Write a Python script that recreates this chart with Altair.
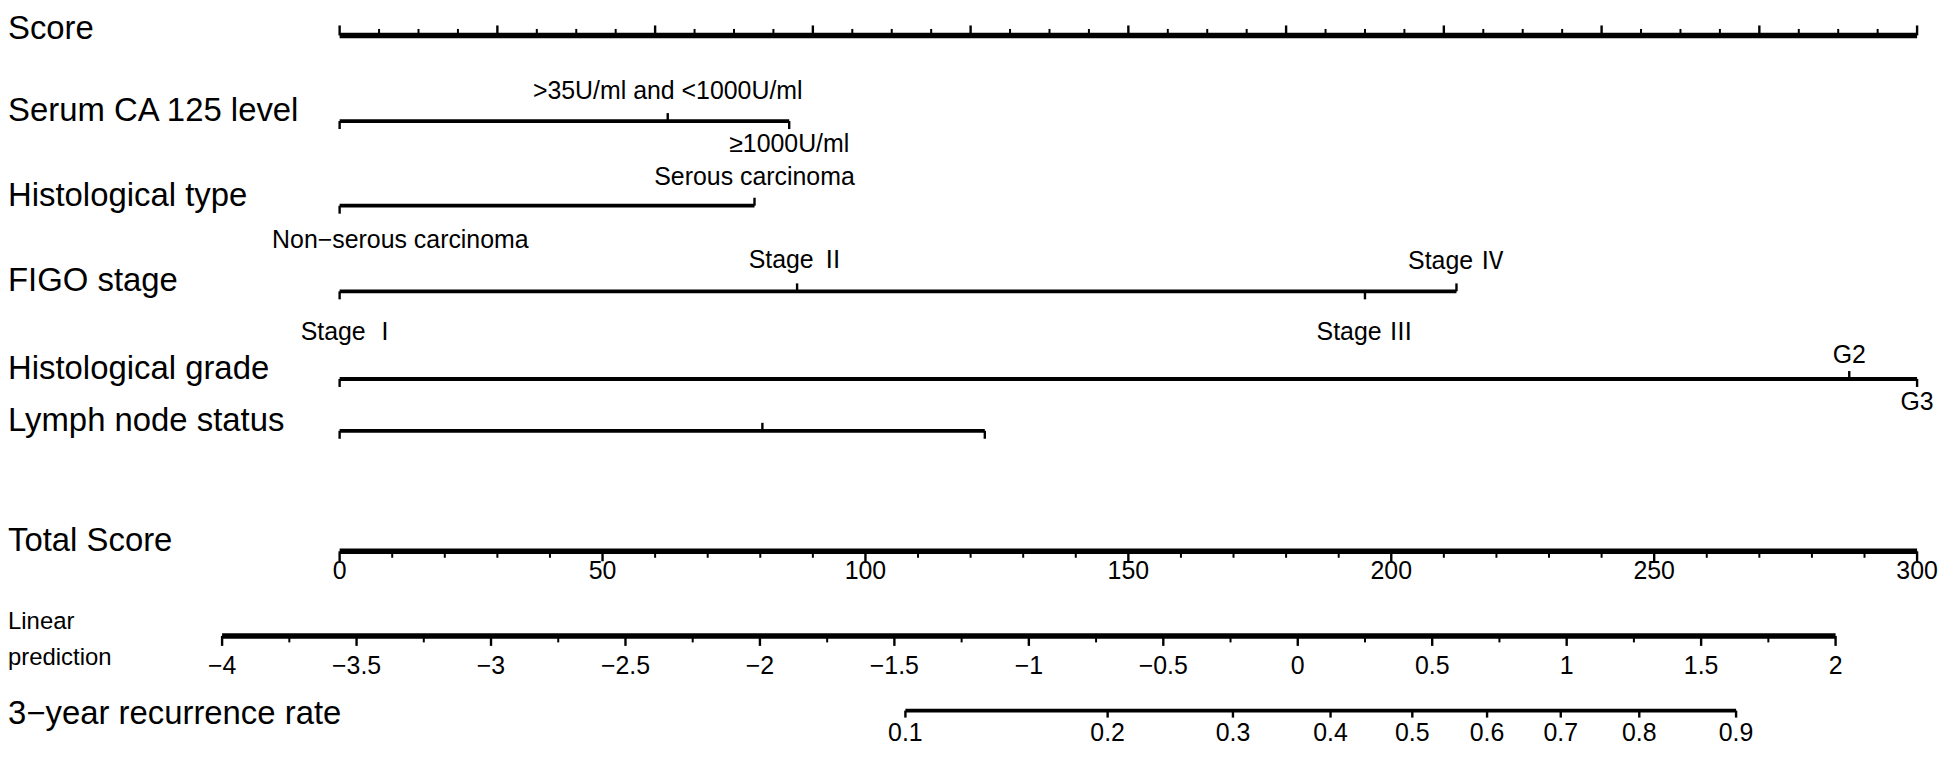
import altair as alt
import pandas as pd

# ---------------- values ----------------
# "Score" (points) axis: major ticks every 10, minor every 2.5 (no numbers drawn)
score_major = [0, 10, 20, 30, 40, 50, 60, 70, 80, 90, 100]
score_minor = [v + d for v in score_major[:-1] for d in (2.5, 5.0, 7.5)]

# predictor rows: category label and its points
ca125_labels = ["", ">35U/ml and <1000U/ml", "≥1000U/ml"]
ca125_points = [0.0, 20.8, 28.5]

histtype_labels = ["Non−serous carcinoma", "Serous carcinoma"]
histtype_points = [0.0, 26.3]

figo_labels = ["Stage Ⅰ", "Stage Ⅱ", "Stage Ⅲ", "Stage Ⅳ"]
figo_points = [0.0, 29.0, 65.0, 70.8]

grade_labels = ["", "G2", "G3"]
grade_points = [0.0, 95.7, 100.0]

lymph_labels = ["", "", ""]
lymph_points = [0.0, 26.8, 40.9]

# Total score axis
total_major = [0, 50, 100, 150, 200, 250, 300]
total_minor = [v for v in range(0, 301, 10) if v % 50 != 0]

# Linear prediction axis
lp_major = [-4, -3.5, -3, -2.5, -2, -1.5, -1, -0.5, 0, 0.5, 1, 1.5, 2]
lp_major_text = ["−4", "−3.5", "−3", "−2.5", "−2", "−1.5", "−1", "−0.5", "0", "0.5", "1", "1.5", "2"]
lp_minor = [v + 0.25 for v in lp_major[:-1]]
lp_at_total = (-22.35, 284.5)   # total score where the linear prediction is -4 and 2

# 3-year recurrence rate axis (positions read on the linear prediction scale)
rec_labels = ["0.1", "0.2", "0.3", "0.4", "0.5", "0.6", "0.7", "0.8", "0.9"]
rec_lp = [-1.459, -0.707, -0.241, 0.122, 0.426, 0.704, 0.978, 1.270, 1.630]

# ---------------- layout (page pixels / styling) ----------------
W, H, M = 1938, 740, 8
X0_PAGE, PX_PER_PT = 341.0, 15.84
FONT = "Liberation Sans, Arial, Noto Sans CJK SC, sans-serif"
ROW_SIZE, TICK_SIZE, SMALL_SIZE = 33, 25, 24


def pts_of_page(px):
    return (px - X0_PAGE) / PX_PER_PT


x_domain = [pts_of_page(M), pts_of_page(M + W)]


def total_to_pts(t):
    return t / 3.0


def lp_to_pts(lp):
    t = lp_at_total[0] + (lp + 4) / 6.0 * (lp_at_total[1] - lp_at_total[0])
    return total_to_pts(t)


def yy(page_y):
    return page_y - M


line_y = {"score": 34, "ca125": 120, "histtype": 205, "figo": 291, "grade": 379,
          "lymph": 431, "total": 552, "lp": 637, "rec": 712}
# row titles: (text, baseline y, size)
row_label = [("Score", 38, ROW_SIZE), ("Serum CA 125 level", 120, ROW_SIZE),
             ("Histological type", 205, ROW_SIZE), ("FIGO stage", 291, ROW_SIZE),
             ("Histological grade", 379, ROW_SIZE), ("Lymph node status", 431, ROW_SIZE),
             ("Total Score", 552, ROW_SIZE), ("3−year recurrence rate", 725, ROW_SIZE),
             ("Linear", 630, SMALL_SIZE), ("prediction", 666, SMALL_SIZE)]

# per category: tick direction (+1 down, -1 up), label baseline offset, label shift (pts)
cat_rows = [
    ("ca125", ca125_labels, ca125_points, [1, -1, 1], [0, -22, 31], [0, 0, 0]),
    ("histtype", histtype_labels, histtype_points, [1, -1], [42, -21], [3.85, 0]),
    ("figo", figo_labels, figo_points, [1, -1, 1, -1], [49, -23, 49, -22], [0.6, 0, 0, 0]),
    ("grade", grade_labels, grade_points, [1, -1, 1], [0, -16, 31], [0, 0, 0]),
    ("lymph", lymph_labels, lymph_points, [1, -1, 1], [0, 0, 0], [0, 0, 0]),
]

lines, ticks, texts = [], [], []

# Score axis
ys = line_y["score"]
lines.append(dict(x=0, x2=100, y=yy(ys), w=5.5))
for v in score_major:
    ticks.append(dict(x=v, y=yy(ys), y2=yy(ys - 10), w=2.4))
for v in score_minor:
    ticks.append(dict(x=v, y=yy(ys), y2=yy(ys - 6.5), w=2.0))

# predictor rows
for key, labs, pts, dirs, dys, shifts in cat_rows:
    y0 = line_y[key]
    lines.append(dict(x=min(pts), x2=max(pts), y=yy(y0), w=3.8))
    for lab, p, d, dy, sh in zip(labs, pts, dirs, dys, shifts):
        ticks.append(dict(x=p, y=yy(y0), y2=yy(y0 + 8 * d), w=2.4))
        if lab:
            texts.append(dict(x=p + sh, y=yy(y0 + dy), text=lab, size=TICK_SIZE))

# Total score axis
yt = line_y["total"]
lines.append(dict(x=total_to_pts(0), x2=total_to_pts(300), y=yy(yt), w=5.5))
for v in total_major:
    ticks.append(dict(x=total_to_pts(v), y=yy(yt), y2=yy(yt + 10), w=2.4))
    texts.append(dict(x=total_to_pts(v), y=yy(yt + 28), text=str(v), size=TICK_SIZE))
for v in total_minor:
    ticks.append(dict(x=total_to_pts(v), y=yy(yt), y2=yy(yt + 6.5), w=2.0))

# Linear prediction axis
yl = line_y["lp"]
lines.append(dict(x=lp_to_pts(-4), x2=lp_to_pts(2), y=yy(yl), w=5.5))
for v, t in zip(lp_major, lp_major_text):
    ticks.append(dict(x=lp_to_pts(v), y=yy(yl), y2=yy(yl + 10), w=2.4))
    texts.append(dict(x=lp_to_pts(v), y=yy(yl + 38), text=t, size=TICK_SIZE))
for v in lp_minor:
    ticks.append(dict(x=lp_to_pts(v), y=yy(yl), y2=yy(yl + 6.5), w=2.0))

# recurrence axis
yr = line_y["rec"]
lines.append(dict(x=lp_to_pts(rec_lp[0]), x2=lp_to_pts(rec_lp[-1]), y=yy(yr), w=3.8))
for lab, v in zip(rec_labels, rec_lp):
    ticks.append(dict(x=lp_to_pts(v), y=yy(yr), y2=yy(yr + 7), w=2.4))
    texts.append(dict(x=lp_to_pts(v), y=yy(yr + 31), text=lab, size=TICK_SIZE))

left_texts = [dict(y=yy(y), text=t, size=s) for t, y, s in row_label]

df_lines = pd.DataFrame(lines)
df_ticks = pd.DataFrame(ticks)
df_texts = pd.DataFrame(texts)
df_left = pd.DataFrame(left_texts)

xs = alt.Scale(domain=x_domain, nice=False, zero=False)
ysc = alt.Scale(domain=[0, H], reverse=True, nice=False, zero=False)

line_layer = alt.Chart(df_lines).mark_rule(color="black", strokeCap="butt").encode(
    x=alt.X("x:Q", scale=xs, axis=None),
    x2="x2:Q",
    y=alt.Y("y:Q", scale=ysc, axis=None),
    strokeWidth=alt.StrokeWidth("w:Q", scale=None),
)

tick_layer = alt.Chart(df_ticks).mark_rule(color="black", strokeCap="butt").encode(
    x=alt.X("x:Q", scale=xs, axis=None),
    y=alt.Y("y:Q", scale=ysc, axis=None),
    y2="y2:Q",
    strokeWidth=alt.StrokeWidth("w:Q", scale=None),
)

text_layer = alt.Chart(df_texts).mark_text(
    color="black", align="center", baseline="alphabetic", font=FONT
).encode(
    x=alt.X("x:Q", scale=xs, axis=None),
    y=alt.Y("y:Q", scale=ysc, axis=None),
    text="text:N",
    size=alt.Size("size:Q", scale=None),
)

left_layer = alt.Chart(df_left).mark_text(
    color="black", align="left", baseline="alphabetic", font=FONT
).encode(
    x=alt.value(0),
    y=alt.Y("y:Q", scale=ysc, axis=None),
    text="text:N",
    size=alt.Size("size:Q", scale=None),
)

chart = alt.layer(line_layer, tick_layer, text_layer, left_layer).properties(
    width=W, height=H, padding=0,
    autosize=alt.AutoSizeParams(type="none"),
    background="white",
).configure_view(stroke=None)

chart.save("out.html", embed_options={"renderer": "svg", "actions": False})
